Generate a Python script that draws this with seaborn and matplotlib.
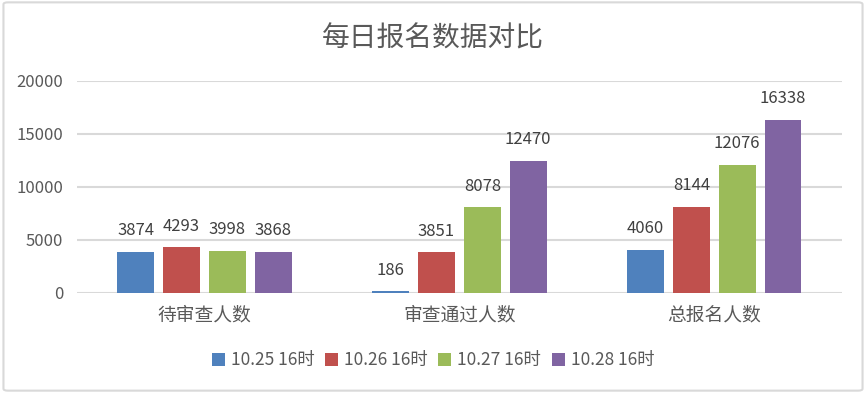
import pandas as pd
import seaborn as sns
import matplotlib.pyplot as plt
from matplotlib.patches import FancyBboxPatch

# Data
categories = ["待审查人数", "审查通过人数", "总报名人数"]
series_names = ["10.25 16时", "10.26 16时", "10.27 16时", "10.28 16时"]
vals_1025 = [3874, 186, 4060]
vals_1026 = [4293, 3851, 8144]
vals_1027 = [3998, 8078, 12076]
vals_1028 = [3868, 12470, 16338]
colors = ["#4F81BD", "#C0504D", "#9BBB59", "#8064A2"]

rows = []
for name, vals in zip(series_names, [vals_1025, vals_1026, vals_1027, vals_1028]):
    for cat, v in zip(categories, vals):
        rows.append({"类别": cat, "人数": v, "时间": name})
df = pd.DataFrame(rows)

sns.set_theme(style="white")
plt.rcParams['font.family'] = ['Noto Sans CJK SC', 'DejaVu Sans']

fig = plt.figure(figsize=(8.66, 3.93), dpi=100)
ax = fig.add_axes([0.0889, 0.2545, 0.972 - 0.0889, 0.794 - 0.2545])

sns.barplot(data=df, x="类别", y="人数", hue="时间", order=categories,
            hue_order=series_names, palette=colors, width=0.72, gap=0.2,
            saturation=1, linewidth=0, ax=ax, legend=True, zorder=3)

# value labels
for cont in ax.containers:
    ax.bar_label(cont, fmt="%d", padding=9, fontsize=12, color="#404040")

ax.set_ylim(0, 20000)
ax.set_yticks([0, 5000, 10000, 15000, 20000])
ax.set_xlim(-0.5, 2.5)
ax.grid(axis="y", color="#D9D9D9", linewidth=1.5, zorder=0)
ax.set_xlabel("")
ax.set_ylabel("")
for s in ax.spines.values():
    s.set_visible(False)
ax.tick_params(axis="both", length=0)
ax.tick_params(axis="y", labelsize=12, labelcolor="#595959", pad=10)
ax.tick_params(axis="x", labelsize=13.5, labelcolor="#595959", pad=8)

fig.text(0.5, 0.903, "每日报名数据对比", ha="center", va="center",
         fontsize=20, color="#595959", fontweight="light")

handles, labels = ax.get_legend_handles_labels()
ax.get_legend().remove()
leg = fig.legend(handles, labels, loc="center", bbox_to_anchor=(0.5, 0.083), ncol=4,
                 frameon=False, fontsize=12.5, handlelength=0.75, handleheight=0.75,
                 handletextpad=0.35, columnspacing=0.6)
for t in leg.get_texts():
    t.set_color("#595959")

# outer chart border
border = FancyBboxPatch((0.004, 0.006), 0.992, 0.988, boxstyle="round,pad=0,rounding_size=0.005",
                        transform=fig.transFigure, fill=False, edgecolor="#D9D9D9", linewidth=1.5)
fig.patches.append(border)

fig.savefig("out.png", dpi=100)
